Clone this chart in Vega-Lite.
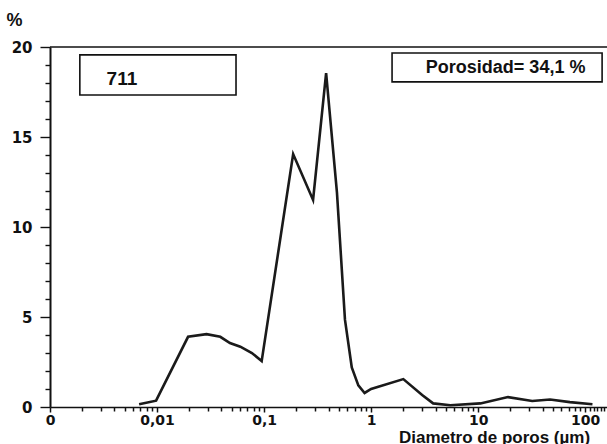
{
  "$schema": "https://vega.github.io/schema/vega-lite/v6.json",
  "width": 557,
  "height": 360,
  "autosize": {"type": "none"},
  "padding": {"left": 50, "top": 47, "right": 0, "bottom": 37},
  "background": "white",
  "config": {
    "view": {"stroke": null},
    "axis": {"labelFont": "DejaVu Sans", "titleFont": "Liberation Sans", "labelFontWeight": "bold", "titleFontWeight": "bold", "labelColor": "#111", "titleColor": "#111", "domainColor": "#111", "tickColor": "#111", "grid": false}
  },
  "datasets": {
    "curve": [
      {"d": 0.0068, "p": 0.15},
      {"d": 0.0098, "p": 0.35},
      {"d": 0.0195, "p": 3.9},
      {"d": 0.029, "p": 4.05},
      {"d": 0.039, "p": 3.9},
      {"d": 0.048, "p": 3.55},
      {"d": 0.06, "p": 3.35},
      {"d": 0.077, "p": 3.0},
      {"d": 0.095, "p": 2.55},
      {"d": 0.187, "p": 14.05},
      {"d": 0.287, "p": 11.5},
      {"d": 0.38, "p": 18.55},
      {"d": 0.48, "p": 11.9},
      {"d": 0.57, "p": 4.85},
      {"d": 0.66, "p": 2.2},
      {"d": 0.76, "p": 1.2},
      {"d": 0.87, "p": 0.78},
      {"d": 1.0, "p": 1.0},
      {"d": 2.0, "p": 1.55},
      {"d": 3.0, "p": 0.67},
      {"d": 3.8, "p": 0.2},
      {"d": 5.5, "p": 0.1},
      {"d": 10.5, "p": 0.2},
      {"d": 19, "p": 0.55},
      {"d": 32, "p": 0.33},
      {"d": 47, "p": 0.42},
      {"d": 72, "p": 0.27},
      {"d": 117, "p": 0.15}
    ],
    "boxes": [
      {"x1": 0.0019, "x2": 0.0547, "y1": 19.56, "y2": 17.33},
      {"x1": 1.57, "x2": 144, "y1": 19.67, "y2": 18.06}
    ],
    "labels": [
      {"x": 0.0047, "y": 18.22, "t": "711", "s": 19},
      {"x": 18.07, "y": 18.83, "t": "Porosidad= 34,1 %", "s": 18}
    ]
  },
  "layer": [
    {
      "data": {"name": "curve"},
      "mark": {"type": "line", "color": "#1a1a1a", "strokeWidth": 2.6, "strokeJoin": "miter"},
      "encoding": {
        "x": {
          "field": "d", "type": "quantitative",
          "scale": {"type": "log", "domain": [0.001, 160], "nice": false},
          "axis": {
            "title": "Diametro de poros (µm)",
            "titleFontSize": 17,
            "titleX": 444, "titleY": 35, "titleAlign": "center", "titleBaseline": "alphabetic",
            "values": [0.001,0.002,0.003,0.004,0.005,0.006,0.007,0.008,0.009,0.01,0.02,0.03,0.04,0.05,0.06,0.07,0.08,0.09,0.1,0.2,0.3,0.4,0.5,0.6,0.7,0.8,0.9,1,2,3,4,5,6,7,8,9,10,20,30,40,50,60,70,80,90,100,110,120,130,140,150],
            "tickCount": 60,
            "labelExpr": "datum.value == 0.001 ? '0' : datum.value == 0.01 ? '0,01' : datum.value == 0.1 ? '0,1' : datum.value == 1 ? '1' : datum.value == 10 ? '10' : datum.value == 100 ? '100' : ''",
            "labelOverlap": false,
            "labelFlush": false,
            "labelFontSize": 14,
            "labelPadding": 1,
            "tickSize": {"condition": {"test": "abs(log(datum.value)/LN10 - round(log(datum.value)/LN10)) < 0.01", "value": 5}, "value": 4},
            "tickWidth": 1.5,
            "domainWidth": 1.6
          }
        },
        "y": {
          "field": "p", "type": "quantitative",
          "scale": {"domain": [0, 20], "nice": false},
          "axis": {
            "title": "%",
            "titleFontSize": 18,
            "titleAngle": 0, "titleX": -36, "titleY": -27, "titleAlign": "center", "titleBaseline": "middle",
            "values": [0,1,2,3,4,5,6,7,8,9,10,11,12,13,14,15,16,17,18,19,20],
            "tickCount": 30,
            "labelExpr": "datum.value % 5 == 0 ? format(datum.value, 'd') : ''",
            "labelOverlap": false,
            "labelFontSize": 15,
            "labelPadding": 8,
            "tickSize": {"condition": {"test": "datum.value % 5 == 0", "value": 10}, "value": 5},
            "tickWidth": 1.4,
            "domainWidth": 2
          }
        }
      }
    },
    {
      "data": {"name": "boxes"},
      "mark": {"type": "rect", "fill": "white", "stroke": "#111", "strokeWidth": 1.6},
      "encoding": {
        "x": {"field": "x1", "type": "quantitative"},
        "x2": {"field": "x2"},
        "y": {"field": "y1", "type": "quantitative"},
        "y2": {"field": "y2"}
      }
    },
    {
      "data": {"name": "labels"},
      "mark": {"type": "text", "font": "Liberation Sans", "fontWeight": "bold", "color": "#111", "align": "center", "baseline": "middle"},
      "encoding": {
        "x": {"field": "x", "type": "quantitative"},
        "y": {"field": "y", "type": "quantitative"},
        "text": {"field": "t"},
        "size": {"field": "s", "type": "quantitative", "scale": null}
      }
    },
    {
      "data": {"values": [{}]},
      "mark": {"type": "rule", "color": "#111", "strokeWidth": 1.6},
      "encoding": {"y": {"datum": 20}}
    }
  ]
}
